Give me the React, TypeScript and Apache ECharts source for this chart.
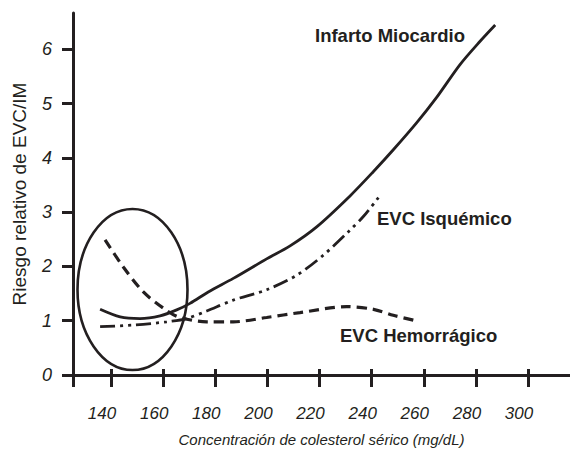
import React, { useEffect, useRef } from "react";
import * as echarts from "echarts";

const xMin = 125.4;
const xMax = 316.1;
const yMin = 0;
const yMax = 6.67;
const xTickValues = [140, 160, 180, 200, 220, 240, 260, 280, 300];
const yTickValues = [0, 1, 2, 3, 4, 5, 6];

const xAxisName = "Concentración de colesterol sérico (mg/dL)";
const yAxisName = "Riesgo relativo de EVC/IM";

const seriesNames = ["Infarto Miocardio", "EVC Isquémico", "EVC Hemorrágico"];

const infartoData = [
  [135.8, 1.21], [143.5, 1.07], [151.1, 1.04], [158.8, 1.09], [165.2, 1.2],
  [170.3, 1.32], [177.3, 1.53], [186.9, 1.78], [199.7, 2.14], [208.7, 2.38],
  [218.9, 2.73], [231.7, 3.3], [240.7, 3.75], [248.3, 4.15], [257.3, 4.65],
  [265.0, 5.12], [273.9, 5.72], [281.6, 6.15], [287.4, 6.45],
];

const isquemicoData = [
  [135.8, 0.89], [148.6, 0.92], [161.4, 0.98], [169.0, 1.04], [176.7, 1.18],
  [186.9, 1.38], [199.7, 1.57], [211.3, 1.84], [221.5, 2.21], [231.7, 2.67],
  [236.8, 2.92], [242.6, 3.27],
];

const hemorragicoData = [
  [137.7, 2.49], [144.7, 1.99], [152.4, 1.53], [160.1, 1.23], [165.8, 1.07],
  [176.7, 0.98], [186.9, 0.98], [199.7, 1.06], [212.5, 1.15], [230.4, 1.26],
  [240.7, 1.21], [248.3, 1.1], [256.0, 1.01],
];

const INK = "#231f20";
const SANS = "'Liberation Sans', Arial, sans-serif";

export default function App() {
  const ref = useRef<HTMLDivElement>(null);

  useEffect(() => {
    if (!ref.current) return;
    const chart = echarts.init(ref.current, null, { renderer: "svg" });

    const lineBase = { type: "line", showSymbol: false, smooth: 0.3, silent: true, xAxisIndex: 0, yAxisIndex: 0 };

    chart.setOption({
      animation: false,
      backgroundColor: "#ffffff",
      grid: { left: 73, right: 0, top: 13, bottom: 78, containLabel: false, outerBoundsMode: "none" },
      xAxis: [
        {
          type: "value",
          position: "bottom",
          min: xMin,
          max: xMax,
          name: xAxisName,
          nameLocation: "middle",
          nameGap: 57,
          nameTextStyle: { fontFamily: SANS, fontStyle: "italic", fontSize: 15, color: INK },
          axisLine: { show: true, lineStyle: { color: INK, width: 3 } },
          axisTick: {
            show: true,
            length: 12,
            customValues: [xMin, ...xTickValues],
            lineStyle: { color: INK, width: 3 },
          },
          axisLabel: {
            show: true,
            customValues: xTickValues,
            margin: 30,
            fontFamily: SANS,
            fontStyle: "italic",
            fontSize: 17,
            color: INK,
            padding: [0, 18, 0, 0],
          },
          splitLine: { show: false },
        },
        {
          type: "value",
          position: "bottom",
          min: xMin,
          max: xMax,
          axisLine: { show: false },
          axisTick: {
            show: true,
            inside: true,
            length: 6,
            customValues: xTickValues,
            lineStyle: { color: INK, width: 3 },
          },
          axisLabel: { show: false },
          splitLine: { show: false },
        },
      ],
      yAxis: {
        type: "value",
        min: yMin,
        max: yMax,
        name: yAxisName,
        nameLocation: "middle",
        nameGap: 44,
        nameTextStyle: { fontFamily: SANS, fontSize: 19, color: INK },
        axisLine: { show: true, lineStyle: { color: INK, width: 3 } },
        axisTick: {
          show: true,
          length: 11,
          customValues: yTickValues,
          lineStyle: { color: INK, width: 3 },
        },
        axisLabel: {
          show: true,
          customValues: yTickValues,
          margin: 21,
          fontFamily: SANS,
          fontStyle: "italic",
          fontSize: 18,
          color: INK,
        },
        splitLine: { show: false },
      },
      series: [
        {
          ...lineBase,
          name: seriesNames[0],
          data: infartoData,
          lineStyle: { color: INK, width: 2.8, type: "solid" },
        },
        {
          ...lineBase,
          name: seriesNames[1],
          data: isquemicoData,
          lineStyle: { color: INK, width: 2.8, type: [15, 5, 3, 5, 3, 5] },
        },
        {
          ...lineBase,
          name: seriesNames[2],
          data: hemorragicoData,
          lineStyle: { color: INK, width: 3.2, type: [10, 6] },
        },
      ],
      graphic: [
        {
          type: "ellipse",
          shape: { cx: 132.5, cy: 289.5, rx: 55, ry: 80.5 },
          style: { fill: "none", stroke: INK, lineWidth: 2.6 },
          z: 10,
        },
        {
          type: "text",
          x: 315,
          y: 35,
          style: {
            text: seriesNames[0],
            fontFamily: SANS,
            fontWeight: "bold",
            fontSize: 18.5,
            fill: INK,
            verticalAlign: "middle",
          },
        },
        {
          type: "text",
          x: 377,
          y: 218,
          style: {
            text: seriesNames[1],
            fontFamily: SANS,
            fontWeight: "bold",
            fontSize: 18.5,
            fill: INK,
            verticalAlign: "middle",
          },
        },
        {
          type: "text",
          x: 340,
          y: 335,
          style: {
            text: seriesNames[2],
            fontFamily: SANS,
            fontWeight: "bold",
            fontSize: 18.5,
            fill: INK,
            verticalAlign: "middle",
          },
        },
      ],
    });

    return () => chart.dispose();
  }, []);

  return (
    <div
      ref={ref}
      style={{ position: "fixed", left: 0, top: 0, width: 570, height: 453, background: "#fff" }}
    />
  );
}
